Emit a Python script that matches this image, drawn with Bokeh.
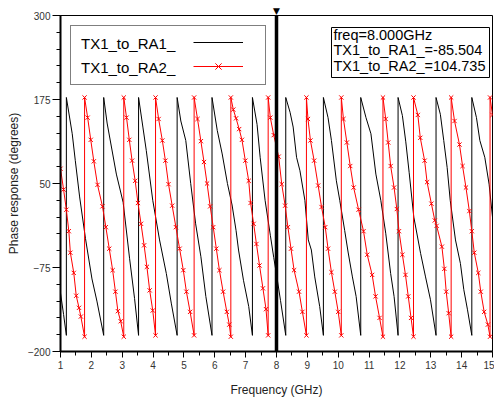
from bokeh.plotting import figure
from bokeh.models import (FixedTicker, Legend, LegendItem, Label, BoxAnnotation,
                          Span, Range1d, Title)
from bokeh.embed import file_html
from bokeh.resources import INLINE

# ---------------- data ----------------
x_ticks = [1, 2, 3, 4, 5, 6, 7, 8, 9, 10, 11, 12, 13, 14, 15]
y_ticks = [-200, -75, 50, 175, 300]
series_names = ["TX1_to_RA1_", "TX1_to_RA2_"]
marker_freq = 8.0
marker_values = [-85.504, 104.735]

black_f = [1.00, 1.10, 1.19,
           1.19, 1.38, 1.48, 1.62, 1.81, 2.02, 2.18, 2.40,
           2.40, 2.51, 2.81, 3.03, 3.24, 3.40, 3.53,
           3.53, 3.67, 3.78, 3.99, 4.21, 4.43, 4.59, 4.78,
           4.78, 4.90, 5.06, 5.22, 5.38, 5.55, 5.71, 5.91,
           5.91, 6.08, 6.24, 6.41, 6.56, 6.69, 6.77, 6.93, 7.10, 7.22,
           7.22, 7.37, 7.47, 7.63, 7.80, 7.91, 8.00, 8.13, 8.30,
           8.30, 8.44, 8.54, 8.65, 8.76, 8.92, 9.03, 9.13, 9.24, 9.40, 9.52,
           9.52, 9.67, 9.78, 9.94, 10.05, 10.21, 10.32, 10.46, 10.58, 10.73,
           10.73, 10.90, 11.06, 11.22, 11.38, 11.54, 11.70, 11.81, 11.94,
           11.94, 12.08, 12.19, 12.30, 12.45, 12.67, 12.83, 12.99, 13.17,
           13.17, 13.31, 13.42, 13.53, 13.63, 13.80, 13.96, 14.07, 14.19, 14.33,
           14.33, 14.48, 14.59, 14.75, 14.89, 15.00]
black_v = [-113, -145, -176,
           178, 124, 84, 30, -32, -92, -125, -176,
           178, 140, 64, 22, -62, -121, -176,
           178, 134, 99, 25, -34, -84, -128, -176,
           178, 143, 114, 50, -10, -59, -118, -176,
           178, 129, 94, 50, 18, -20, -49, -94, -133, -176,
           178, 138, 89, 25, -27, -60, -85.5, -124, -176,
           178, 156, 134, 89, 69, 25, -34, -49, -89, -133, -176,
           178, 148, 114, 54, 25, -20, -52, -89, -118, -176,
           178, 148, 124, 64, 25, -24, -84, -118, -176,
           178, 151, 112, 66, 0, -54, -89, -123, -176,
           178, 153, 114, 74, 25, -34, -69, -108, -138, -176,
           178, 148, 114, 89, 49, 0]

red_f = [1.00, 1.10, 1.19, 1.27, 1.32, 1.43, 1.51, 1.60, 1.66, 1.78,
         1.78, 1.88, 1.98, 2.08, 2.20, 2.36, 2.47, 2.58, 2.69, 2.78, 2.86, 2.95, 3.05,
         3.05, 3.14, 3.23, 3.32, 3.42, 3.51, 3.61, 3.71, 3.80, 3.89, 3.99, 4.08,
         4.08, 4.18, 4.30, 4.40, 4.50, 4.62, 4.74, 4.86, 4.98, 5.08, 5.20, 5.33,
         5.33, 5.44, 5.55, 5.65, 5.75, 5.85, 5.95, 6.05, 6.15, 6.27, 6.39, 6.47, 6.52,
         6.52, 6.60, 6.69, 6.79, 6.88, 6.99, 7.10, 7.16, 7.26, 7.35, 7.45, 7.56, 7.66, 7.73,
         7.73, 7.80, 7.91, 8.07, 8.17, 8.28, 8.37, 8.47, 8.57, 8.73, 8.84, 8.97,
         8.97, 9.02, 9.10, 9.22, 9.35, 9.46, 9.58, 9.67, 9.78, 9.89, 10.00, 10.10,
         10.10, 10.17, 10.28, 10.39, 10.50, 10.66, 10.82, 10.94, 11.10, 11.21, 11.34, 11.45,
         11.45, 11.54, 11.62, 11.70, 11.81, 11.90, 11.97, 12.08, 12.18, 12.27, 12.36, 12.44,
         12.44, 12.58, 12.66, 12.80, 12.88, 13.02, 13.13, 13.19, 13.36, 13.44, 13.50, 13.58, 13.66,
         13.66, 13.77, 13.93, 14.03, 14.14, 14.25, 14.33, 14.41, 14.54, 14.62, 14.73, 14.85, 14.92,
         14.92, 15.00]
red_v = [72, 41, 11, -21, -53, -83, -117, -135, -148, -178,
         178, 148, 115, 83, 48, 16, -15, -47, -79, -111, -140, -155, -178,
         178, 148, 115, 84, 54, 21, -10, -42, -74, -109, -139, -176,
         178, 146, 114, 84, 49, 17, -15, -47, -79, -111, -141, -176,
         178, 146, 113, 82, 50, 16, -15, -47, -79, -111, -141, -160, -178,
         178, 160, 147, 131, 115, 84, 54, 21, -10, -40, -72, -106, -137, -176,
         178, 148, 122, 90, 49, 17, -15, -47, -79, -111, -141, -176,
         178, 146, 114, 84, 47, 15, -15, -47, -82, -111, -141, -176,
         178, 146, 111, 76, 44, 11, -21, -56, -86, -118, -150, -178,
         178, 146, 111, 76, 44, 12, -21, -56, -86, -118, -150, -178,
         178, 152, 118, 84, 52, 20, -5, -13, -44, -77, -111, -143, -178,
         178, 143, 108, 76, 44, 9, -21, -53, -83, -111, -141, -160, -178,
         178, 152]

# ---------------- figure ----------------
FONT = "Liberation Sans"
W, H = 494, 399
BL, BR, BT, BB = 60, 2, 15, 48
p = figure(width=W, height=H,
           x_range=Range1d(x_ticks[0], x_ticks[-1]),
           y_range=Range1d(y_ticks[0], y_ticks[-1]),
           output_backend="svg", toolbar_location=None,
           min_border_left=BL, min_border_right=BR,
           min_border_top=BT, min_border_bottom=BB)
p.grid.visible = False
p.background_fill_color = "white"
p.border_fill_color = "white"
p.outline_line_color = "black"
p.outline_line_width = 1

p.xaxis.ticker = FixedTicker(ticks=x_ticks,
                             minor_ticks=[t + 0.5 for t in x_ticks[:-1]])
p.yaxis.ticker = FixedTicker(ticks=y_ticks,
                             minor_ticks=list(range(y_ticks[0], y_ticks[-1] + 1, 25)))

for ax in (p.xaxis[0], p.yaxis[0]):
    ax.axis_line_color = "black"
    ax.axis_line_width = 2
    ax.major_tick_line_color = "black"
    ax.minor_tick_line_color = "black"
    ax.major_tick_in = 0
    ax.minor_tick_in = 0
    ax.minor_tick_out = 4
    ax.major_label_text_font = FONT
    ax.major_label_text_font_size = "10px"
    ax.major_label_text_color = "#333333"
    ax.axis_label_text_font = FONT
    ax.axis_label_text_font_size = "12px"
    ax.axis_label_text_font_style = "normal"
    ax.axis_label_text_color = "#222222"

p.xaxis.major_tick_out = 6
p.yaxis.major_tick_out = 8
p.xaxis.major_label_standoff = 3
p.yaxis.major_label_standoff = 2
p.xaxis.axis_label = "Frequency (GHz)"
p.yaxis.axis_label = "Phase response (degrees)"
p.xaxis.axis_label_standoff = 11
p.yaxis.axis_label_standoff = 4

r_black = p.line(black_f, black_v, line_color="black", line_width=1)
r_red_line = p.line(red_f, red_v, line_color="#ff0000", line_width=1)
r_red_pts = p.scatter(red_f, red_v, marker="x", size=6,
                      line_color="#ff0000", line_width=1)

# invisible renderers used only to place the legend texts
d1 = p.line([], [], line_alpha=0)
d2 = p.line([], [], line_alpha=0)

common = dict(padding=6, spacing=2, label_height=22, glyph_height=22,
              label_text_font=FONT, label_text_font_size="15px",
              label_text_color="black")
legA = Legend(items=[LegendItem(label=series_names[0], renderers=[d1]),
                     LegendItem(label=series_names[1], renderers=[d2])],
              location="top_left", margin=10, glyph_width=0, label_standoff=4,
              label_width=178, border_line_color="black", border_line_width=1,
              background_fill_color="white", background_fill_alpha=1, **common)
p.add_layout(legA)

legB = Legend(items=[LegendItem(label=" ", renderers=[r_black]),
                     LegendItem(label=" ", renderers=[r_red_line, r_red_pts])],
              location=(127, 268), glyph_width=50, label_standoff=0,
              label_width=0, border_line_alpha=0, background_fill_alpha=0,
              **common)
p.add_layout(legB)

# marker line at the readout frequency
p.add_layout(Span(location=marker_freq, dimension="height",
                  line_color="black", line_width=3.5))
# marker head above the frame (drawn as a title so it is not clipped)
frame_w = W - BL - BR
tri_w = 7
head_offset = (marker_freq - x_ticks[0]) / (x_ticks[-1] - x_ticks[0]) * frame_w - tri_w / 2
p.add_layout(Title(text="\u25BC", align="left", offset=head_offset,
                   text_font="DejaVu Sans", text_font_size="9px",
                   text_font_style="normal", standoff=0,
                   text_color="black"), "above")

# readout box
p.add_layout(BoxAnnotation(left=271, right=429, top=324, bottom=274,
                           left_units="screen", right_units="screen",
                           top_units="screen", bottom_units="screen",
                           fill_color="white", fill_alpha=1,
                           line_color="black", line_width=1, line_alpha=1))
readout = ["freq=%.3fGHz" % marker_freq,
           "%s=%.3f" % (series_names[0], marker_values[0]),
           "%s=%.3f" % (series_names[1], marker_values[1])]
for i, t in enumerate(readout):
    p.add_layout(Label(x=273, y=317 - i * 15.5, x_units="screen", y_units="screen",
                       text=t, text_font=FONT, text_font_size="14.5px",
                       text_baseline="middle", text_color="black"))

open("out.html", "w").write(file_html(p, INLINE))
